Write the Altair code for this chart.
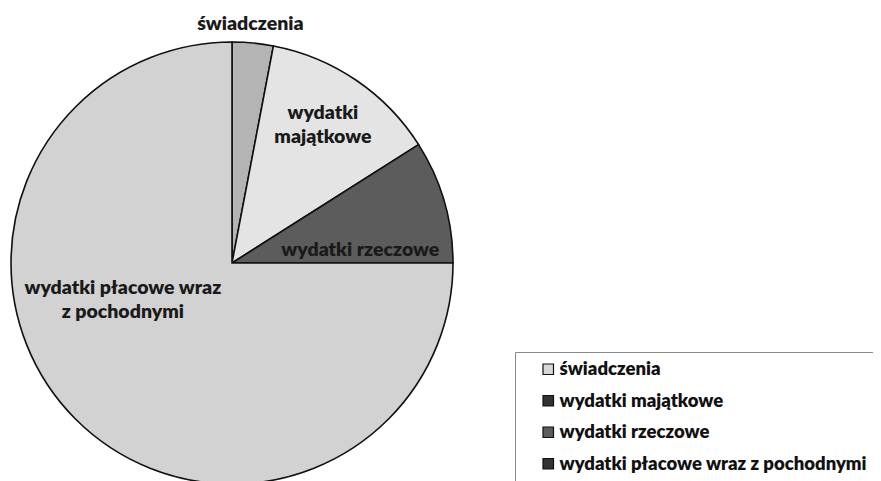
import altair as alt
import pandas as pd

categories = ["świadczenia", "wydatki majątkowe", "wydatki rzeczowe",
              "wydatki płacowe wraz z pochodnymi"]
values = [3.0, 13.0, 9.0, 75.0]
slice_labels = ["świadczenia", "wydatki\nmajątkowe", "wydatki rzeczowe",
                "wydatki płacowe wraz\nz pochodnymi"]

df = pd.DataFrame({
    "category": categories,
    "value": values,
    "label": slice_labels,
    "idx": list(range(len(categories))),
})

# styling (kept out of the data arrays)
slice_colors = ["#b4b4b4", "#e4e4e4", "#5c5c5c", "#d2d2d2"]
legend_colors = ["#d8d8d8", "#333333", "#5c5c5c", "#333333"]
CX, CY, R = 224, 255, 221
label_radius = {categories[0]: 240, categories[1]: 175, categories[2]: 129, categories[3]: 112}
label_shift_deg = {categories[0]: -1.0, categories[1]: -2.9, categories[2]: 10.4, categories[3]: 32.1}

def case_expr(mapping):
    expr = "0"
    for k, v in mapping.items():
        expr = f"(datum.category == '{k}' ? {v} : {expr})"
    return expr

base = alt.Chart(df).encode(
    theta=alt.Theta("value:Q", stack=True),
    order=alt.Order("idx:Q"),
    x=alt.value(CX),
    y=alt.value(CY),
)

legend_layer = base.mark_arc(radius=R).encode(
    fill=alt.Fill(
        "category:N",
        sort=categories,
        scale=alt.Scale(domain=categories, range=legend_colors),
        legend=alt.Legend(
            title=None,
            orient="none",
            legendX=507,
            legendY=344,
            symbolType="square",
            symbolSize=110,
            symbolStrokeColor="#111111",
            symbolStrokeWidth=1.2,
            symbolOffset=16,
            labelFont="Lato",
            labelFontWeight=800,
            labelFontSize=18.5,
            labelColor="#111111",
            labelOffset=2,
            labelLimit=400,
            rowPadding=12.5,
            padding=8,
            strokeColor="#8a8a8a",
            fillColor="white",
            cornerRadius=0,
        ),
    )
)

arcs = base.mark_arc(radius=R, stroke="#111111", strokeWidth=1.6).encode(
    fill=alt.Fill(
        "category:N",
        sort=categories,
        scale=alt.Scale(domain=categories, range=slice_colors),
        legend=None,
    )
)

text = (
    alt.Chart(df)
    .transform_window(cum="sum(value)", sort=[alt.SortField("idx")], frame=[None, 0])
    .transform_joinaggregate(total="sum(value)")
    .transform_calculate(
        mid=f"(datum.cum - datum.value/2)/datum.total*2*PI + ({case_expr(label_shift_deg)})*PI/180",
        lr=case_expr(label_radius),
    )
    .mark_text(
        font="Lato",
        fontWeight=800,
        fontSize=19.5,
        lineBreak="\n",
        lineHeight=24,
        align="center",
        baseline="middle",
        color="#1a1a1a",
    )
    .encode(
        theta=alt.Theta("mid:Q", scale=None),
        radius=alt.Radius("lr:Q", scale=None),
        text=alt.Text("label:N"),
        x=alt.value(CX),
        y=alt.value(CY),
    )
)

chart = (
    alt.layer(legend_layer, arcs, text)
    .resolve_scale(fill="independent")
    .properties(width=865, height=473, padding=0, autosize=alt.AutoSizeParams(type="none"))
    .configure_view(stroke=None)
)

chart.save("out.html", embed_options={"renderer": "svg", "actions": False})
